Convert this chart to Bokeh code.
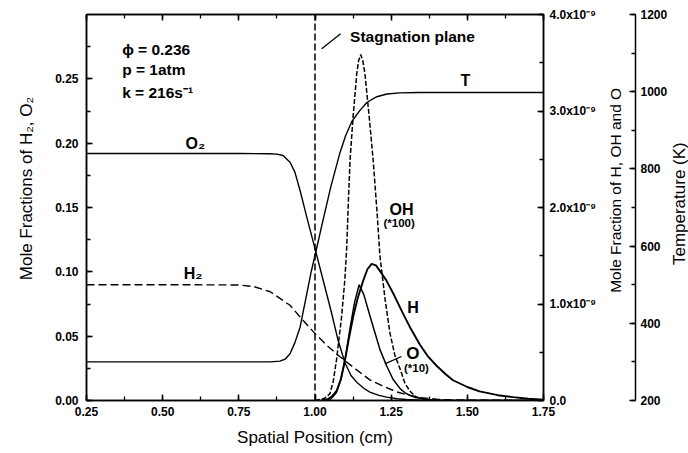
import math
from bokeh.plotting import figure
from bokeh.layouts import row
from bokeh.models import (Range1d, LinearAxis, SingleIntervalTicker, NumeralTickFormatter,
                          CustomJSTickFormatter, Label)
from bokeh.embed import file_html
from bokeh.resources import INLINE

FONT = "Liberation Sans"

# ---------------- data ----------------
# O2 mole fraction (left axis)
o2_x = [0.25, 0.50, 0.75, 0.85, 0.875, 0.895, 0.918, 0.934, 0.951, 0.973, 1.003, 1.027,
        1.055, 1.076, 1.098, 1.118, 1.138, 1.16, 1.18, 1.21, 1.235, 1.27, 1.30, 1.35, 1.40, 1.75]
o2_y = [0.192, 0.192, 0.192, 0.1918, 0.1915, 0.1904, 0.1852, 0.1775, 0.1632, 0.1425, 0.1153, 0.0933,
        0.0674, 0.0466, 0.0295, 0.0194, 0.0140, 0.0095, 0.0065, 0.0040, 0.0026, 0.0014, 0.0008, 0.0003, 0.0, 0.0]

# H2 mole fraction (left axis)
h2_x = [0.25, 0.50, 0.75, 0.80, 0.853, 0.918, 0.962, 1.00, 1.038, 1.082, 1.125, 1.18,
        1.22, 1.267, 1.31, 1.35, 1.40, 1.45, 1.75]
h2_y = [0.090, 0.090, 0.0898, 0.0885, 0.0845, 0.074, 0.062, 0.052, 0.043, 0.034, 0.026, 0.016,
        0.0115, 0.0068, 0.0040, 0.0022, 0.0010, 0.0004, 0.0]

# Temperature (K) (temperature axis)
t_x = [0.25, 0.50, 0.75, 0.853, 0.885, 0.902, 0.918, 0.934, 0.951, 0.973, 0.987, 1.003, 1.026,
       1.052, 1.082, 1.101, 1.121, 1.147, 1.170, 1.203, 1.236, 1.278, 1.344, 1.50, 1.75]
t_y = [300, 300, 300, 300, 302, 307, 321, 350, 390, 476, 532, 586, 666,
       754, 842, 887, 923, 951, 972, 987, 994, 997, 998, 998, 998]

# OH mole fraction (*100) (right axis)
oh_x = [1.00, 1.03, 1.049, 1.06, 1.071, 1.087, 1.098, 1.104, 1.110, 1.115, 1.125, 1.137, 1.143,
        1.150, 1.157, 1.164, 1.178, 1.191, 1.204, 1.213, 1.23, 1.246, 1.262, 1.279, 1.295,
        1.311, 1.33, 1.36, 1.45]
oh_y = [0.0, 0.02e-9, 0.07e-9, 0.20e-9, 0.43e-9, 0.86e-9, 1.25e-9, 1.58e-9, 2.10e-9, 2.49e-9,
        2.94e-9, 3.385e-9, 3.52e-9, 3.585e-9, 3.52e-9, 3.385e-9, 2.936e-9, 2.487e-9, 1.935e-9,
        1.50e-9, 1.05e-9, 0.70e-9, 0.47e-9, 0.33e-9, 0.18e-9, 0.10e-9, 0.04e-9, 0.01e-9, 0.0]

# H mole fraction (right axis)
h_x = [1.02, 1.04, 1.055, 1.071, 1.085, 1.098, 1.11, 1.125, 1.14, 1.158, 1.172, 1.186, 1.20,
       1.218, 1.235, 1.26, 1.289, 1.315, 1.344, 1.37, 1.399, 1.43, 1.453, 1.50, 1.54, 1.60,
       1.65, 1.70, 1.75]
h_y = [0.0, 0.01e-9, 0.04e-9, 0.10e-9, 0.22e-9, 0.41e-9, 0.62e-9, 0.863e-9, 1.06e-9, 1.24e-9,
       1.36e-9, 1.416e-9, 1.40e-9, 1.32e-9, 1.24e-9, 1.09e-9, 0.90e-9, 0.74e-9, 0.58e-9,
       0.46e-9, 0.36e-9, 0.27e-9, 0.21e-9, 0.14e-9, 0.095e-9, 0.055e-9, 0.035e-9, 0.018e-9, 0.008e-9]

# O mole fraction (*10) (right axis)
o_x = [1.03, 1.05, 1.07, 1.085, 1.10, 1.115, 1.13, 1.145, 1.16, 1.18, 1.197, 1.213, 1.235,
       1.256, 1.28, 1.30, 1.33, 1.37, 1.42, 1.75]
o_y = [0.0, 0.01e-9, 0.08e-9, 0.22e-9, 0.45e-9, 0.75e-9, 1.02e-9, 1.20e-9, 1.10e-9, 0.88e-9,
       0.70e-9, 0.53e-9, 0.36e-9, 0.22e-9, 0.12e-9, 0.07e-9, 0.03e-9, 0.01e-9, 0.0, 0.0]

# stagnation plane position
stag_x = 1.0

# annotations
ann_text = ["ϕ = 0.236", "p = 1atm", "k = 216s⁻¹", "Stagnation plane", "T", "O₂", "H₂",
            "OH", "(*100)", "H", "O", "(*10)"]
ann_x = [0.367, 0.367, 0.367, 1.115, 1.494, 0.607, 0.600, 1.284, 1.276, 1.322, 1.321, 1.333]
ann_y = [0.2728, 0.2573, 0.2394, 0.2831, 0.2487, 0.1997, 0.0987, 0.1484, 0.1376, 0.0725, 0.0365, 0.0249]
ann_align = ["left", "left", "left", "left", "center", "center", "center", "center", "center",
             "center", "center", "center"]
ann_size = ["15.5px", "15.5px", "15.5px", "15.5px", "16px", "16px", "16px", "16px", "11.5px",
            "16px", "17px", "11.5px"]

# leader lines (stagnation plane label, O label)
lead_x0 = [1.022, 1.229]
lead_y0 = [0.2733, 0.0285]
lead_x1 = [1.084, 1.284]
lead_y1 = [0.2850, 0.0342]

# axis titles
left_title = "Mole Fractions of H₂, O₂"
bottom_title = "Spatial Position (cm)"
right_title = "Mole Fraction of H, OH and O"
temp_title = "Temperature (K)"

# ---------------- main figure ----------------
p = figure(width=670, height=453, output_backend="svg", toolbar_location=None,
           x_range=Range1d(0.25, 1.75), y_range=Range1d(0, 0.30),
           min_border_left=86, min_border_right=126, min_border_top=14, min_border_bottom=53)
p.extra_y_ranges = {"right": Range1d(0, 4e-9), "temp": Range1d(200, 1200)}
p.xgrid.visible = False
p.ygrid.visible = False
p.outline_line_color = "black"
p.outline_line_width = 1.5
p.background_fill_color = "white"
p.border_fill_color = "white"


def style(ax):
    ax.axis_line_width = 1.5
    ax.axis_line_color = "black"
    ax.major_tick_line_width = 1.5
    ax.minor_tick_line_width = 1.3
    ax.major_tick_line_color = "black"
    ax.minor_tick_line_color = "black"
    ax.major_tick_in = 6
    ax.major_tick_out = 0
    ax.minor_tick_in = 4
    ax.minor_tick_out = 0
    ax.major_label_text_font = FONT
    ax.major_label_text_font_style = "bold"
    ax.major_label_text_font_size = "12px"
    ax.major_label_text_color = "black"
    ax.axis_label_text_font = FONT
    ax.axis_label_text_font_style = "normal"
    ax.axis_label_text_font_size = "17px"
    ax.axis_label_text_color = "black"


# left axis (title nudged upward with leading blanks)
left = p.yaxis[0]
style(left)
left.ticker = SingleIntervalTicker(interval=0.05, num_minor_ticks=2)
left.formatter = NumeralTickFormatter(format="0.00")
left.axis_label = "\u00a0" * 8 + left_title
left.major_label_standoff = 8
left.axis_label_standoff = 16

# bottom axis
bottom = p.xaxis[0]
style(bottom)
bottom.ticker = SingleIntervalTicker(interval=0.25, num_minor_ticks=2)
bottom.formatter = NumeralTickFormatter(format="0.00")
bottom.axis_label = bottom_title
bottom.major_label_standoff = 6
bottom.axis_label_standoff = 9

# top axis (ticks only)
top = LinearAxis(ticker=SingleIntervalTicker(interval=0.25, num_minor_ticks=2),
                 formatter=CustomJSTickFormatter(code="return '';"))
style(top)
top.major_label_text_font_size = "0px"
top.major_label_standoff = 0
p.add_layout(top, "above")

# inner right axis
right = LinearAxis(y_range_name="right",
                   ticker=SingleIntervalTicker(interval=1e-9, num_minor_ticks=2),
                   formatter=CustomJSTickFormatter(code="""
                       const v = tick * 1e9;
                       if (Math.abs(v) < 1e-6) { return "0.0"; }
                       return v.toFixed(1) + "x10⁻⁹";
                   """))
style(right)
right.major_label_standoff = 6
# title reads bottom-to-top; anchored at the start of the axis, pushed up with blanks
right.axis_label = "\u00a0" * 25 + right_title
right.axis_label_text_font_size = "15.5px"
right.axis_label_standoff = 17
right.axis_label_orientation = math.pi / 2
right.axis_label_align = "start"
p.add_layout(right, "right")

# temperature axis
temp = LinearAxis(y_range_name="temp",
                  ticker=SingleIntervalTicker(interval=200, num_minor_ticks=2))
style(temp)
temp.major_label_standoff = 5
p.add_layout(temp, "right")

# ---------------- curves ----------------
p.line([stag_x, stag_x], [0, 0.30], line_color="black", line_width=1.5, line_dash="7 3")
p.line(o2_x, o2_y, line_color="black", line_width=1.4)
p.line(h2_x, h2_y, line_color="black", line_width=1.4, line_dash="8 4")
p.line(t_x, t_y, y_range_name="temp", line_color="black", line_width=1.4)
p.line(oh_x, oh_y, y_range_name="right", line_color="black", line_width=1.5, line_dash="5 2")
p.line(o_x, o_y, y_range_name="right", line_color="black", line_width=1.5)
p.line(h_x, h_y, y_range_name="right", line_color="black", line_width=1.9)

p.segment(x0=lead_x0, y0=lead_y0, x1=lead_x1, y1=lead_y1, line_color="black", line_width=1.3)

for t, x, y, a, s in zip(ann_text, ann_x, ann_y, ann_align, ann_size):
    p.add_layout(Label(x=x, y=y, text=t, text_font=FONT, text_font_style="bold",
                       text_font_size=s, text_align=a, text_baseline="middle",
                       text_color="black"))

# ---------------- narrow strip holding the temperature title ----------------
q = figure(width=18, height=453, output_backend="svg", toolbar_location=None,
           x_range=Range1d(0, 18), y_range=Range1d(0, 453),
           x_axis_type=None, y_axis_type=None,
           min_border_left=0, min_border_right=0, min_border_top=0, min_border_bottom=0)
q.title.visible = False
q.xgrid.visible = False
q.ygrid.visible = False
q.outline_line_color = None
q.background_fill_color = "white"
q.border_fill_color = "white"
q.add_layout(Label(x=8.5, y=231, text=temp_title, angle=math.pi / 2, text_font=FONT,
                   text_font_size="17px", text_align="center", text_baseline="middle",
                   text_color="black"))

layout = row(p, q, spacing=0)
open("out.html", "w").write(file_html(layout, INLINE))
